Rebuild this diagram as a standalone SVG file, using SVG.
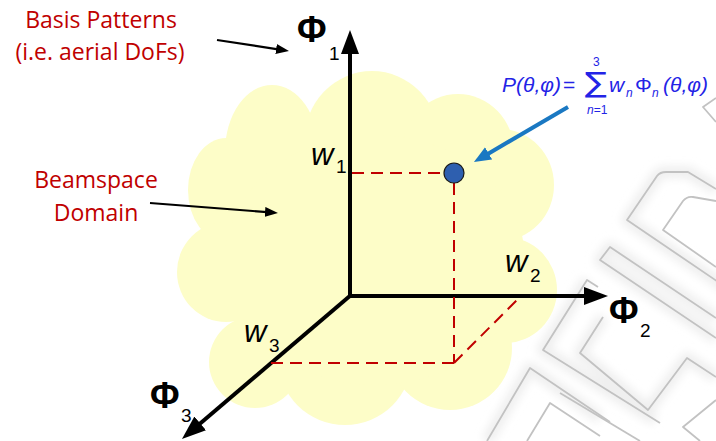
<svg xmlns="http://www.w3.org/2000/svg" width="716" height="441" viewBox="0 0 716 441">
  <style>
    .lbl { font-family: "Open Sans", "Liberation Sans", sans-serif; font-size: 23px; fill: #C00000; text-anchor: middle; }
    .phi { font-family: "Liberation Sans", Arial, sans-serif; font-weight: bold; font-size: 36px; fill: #000; }
    .sub { font-family: "Liberation Sans", Arial, sans-serif; font-size: 19px; fill: #000; }
    .w { font-family: "Liberation Sans", Arial, sans-serif; font-style: italic; font-size: 31px; fill: #000; }
    .f { font-family: "Liberation Sans", Arial, sans-serif; font-size: 21px; fill: #2323E6; }
    .fi { font-style: italic; }
    .fs { font-size: 12px; }
    .axis { stroke: #000; stroke-width: 4; fill: none; }
    .thin { stroke: #000; stroke-width: 2.2; fill: none; }
    .dash { stroke: #C00000; stroke-width: 2; fill: none; stroke-dasharray: 12 7; }
    .pat { fill: none; stroke: #c2c2c2; stroke-width: 1.8; stroke-linejoin: round; }
    .patsh { fill: none; stroke: #efefef; stroke-width: 12; stroke-linejoin: round; }
  </style>
  <defs>
    <marker id="axhead" markerUnits="userSpaceOnUse" markerWidth="26" markerHeight="20" refX="2" refY="9" orient="auto">
      <path d="M0,0 L24,9 L0,18 z" fill="#000"/>
    </marker>
    <marker id="smhead" markerUnits="userSpaceOnUse" markerWidth="14" markerHeight="11" refX="2" refY="5" orient="auto">
      <path d="M0,0 L13,5 L0,10 z" fill="#000"/>
    </marker>
    <marker id="bluehead" markerUnits="userSpaceOnUse" markerWidth="18" markerHeight="15" refX="2" refY="7" orient="auto">
      <path d="M0,0 L17,7 L0,14 z" fill="#1A78C2"/>
    </marker>
    <filter id="soft" x="-10%" y="-10%" width="120%" height="120%">
      <feGaussianBlur stdDeviation="4"/>
    </filter>
  </defs>

  <rect width="716" height="441" fill="#fff"/>

  <!-- faint background antenna pattern -->
  <g id="background-pattern">
    <g filter="url(#soft)">
      <path class="patsh" d="M727,288 L627,220 L657,176 Q660,172 666,172 L688,172 L716,189"/>
      <path class="patsh" d="M716,318 L610,247 L600,260 L716,338"/>
      <path class="patsh" d="M655,420 L543,350 L587,280"/>
      <path class="patsh" d="M603,317 L580,353 L648,410 L687,358 L716,377"/>
      <path class="patsh" d="M487,441 L530,368 L600,418"/>
    </g>
    <path class="pat" d="M727,288 L627,220 L657,176 Q660,172 666,172 L688,172 L716,189"/>
    <path class="pat" d="M716,267 L663,230 L683,201 Q687,196 693,197 L716,201"/>
    <path class="pat" d="M716,318 L610,247 L600,260 L716,338"/>
    <path class="pat" d="M660,423 L543,350 L587,280 L598,287"/>
    <path class="pat" d="M603,317 L580,353 L648,410 L687,358 L716,377"/>
    <path class="pat" d="M560,393 L640,441"/>
    <path class="pat" d="M716,400 L683,427 L700,441"/>
    <path class="pat" d="M487,441 L530,368 L610,422"/>
    <path class="pat" d="M527,441 L550,403 L600,436"/>
    <path class="pat" d="M716,98 L703,107 L716,122"/>
  </g>

  <!-- cloud -->
  <g id="beamspace-cloud" fill="#FDFDC8">
    <ellipse cx="372" cy="142" rx="68" ry="71"/>
    <ellipse cx="272" cy="152" rx="47" ry="67"/>
    <ellipse cx="226" cy="190" rx="38" ry="52"/>
    <ellipse cx="226" cy="272" rx="49" ry="50"/>
    <ellipse cx="255" cy="362" rx="46" ry="46"/>
    <ellipse cx="345" cy="358" rx="67" ry="67"/>
    <ellipse cx="450" cy="348" rx="62" ry="62"/>
    <ellipse cx="505" cy="290" rx="52" ry="53"/>
    <ellipse cx="500" cy="185" rx="54" ry="56"/>
    <ellipse cx="458" cy="152" rx="56" ry="58"/>
    <ellipse cx="375" cy="260" rx="150" ry="125"/>
  </g>

  <!-- connectors -->
  <g id="connectors">
    <line class="axis" x1="350" y1="298" x2="350" y2="52" marker-end="url(#axhead)"/>
    <line class="axis" x1="348" y1="296" x2="586" y2="296" marker-end="url(#axhead)"/>
    <line class="axis" x1="351" y1="295" x2="198.7" y2="424.7" marker-end="url(#axhead)"/>
    <line class="thin" x1="217" y1="40" x2="278.1" y2="49.3" marker-end="url(#smhead)"/>
    <line class="thin" x1="150" y1="203" x2="267" y2="212.1" marker-end="url(#smhead)"/>
    <line x1="568" y1="107" x2="486.9" y2="154.4" stroke="#1A78C2" stroke-width="4" marker-end="url(#bluehead)"/>
    <path class="dash" d="M352,173 H444"/>
    <path class="dash" d="M454,183 V363"/>
    <path class="dash" d="M454,363 H268"/>
    <path class="dash" d="M454,363 L521,296"/>
  </g>

  <g id="point">
    <circle cx="454" cy="173" r="10" fill="#2E5FAF" stroke="#1a1a1a" stroke-width="1.2"/>
  </g>

  <g id="label-basis">
    <text class="lbl" x="101" y="28">Basis Patterns</text>
    <text class="lbl" x="100" y="60">(i.e. aerial DoFs)</text>
  </g>
  <g id="label-beamspace">
    <text class="lbl" x="96" y="188">Beamspace</text>
    <text class="lbl" x="96" y="221">Domain</text>
  </g>

  <g id="axis-phi1">
    <text class="phi" x="297" y="42">Φ</text>
    <text class="sub" x="329" y="60">1</text>
  </g>
  <g id="axis-phi2">
    <text class="phi" x="609" y="323">Φ</text>
    <text class="sub" x="640" y="337">2</text>
  </g>
  <g id="axis-phi3">
    <text class="phi" x="150" y="408">Φ</text>
    <text class="sub" x="181" y="422">3</text>
  </g>

  <g id="weight-w1">
    <text class="w" x="311" y="165">w</text>
    <text class="sub" x="336" y="173">1</text>
  </g>
  <g id="weight-w2">
    <text class="w" x="505" y="272">w</text>
    <text class="sub" x="530" y="282">2</text>
  </g>
  <g id="weight-w3">
    <text class="w" x="244" y="342">w</text>
    <text class="sub" x="269" y="352">3</text>
  </g>

  <g id="formula">
    <text class="f fi" x="502" y="92">P(θ,φ)</text>
    <text class="f" x="563" y="92">=</text>
    <text x="585" y="92" textLength="22" lengthAdjust="spacingAndGlyphs" style="font-family:'DejaVu Sans',sans-serif;font-size:28px;fill:#2323E6">∑</text>
    <text class="f fs" x="593" y="66">3</text>
    <text class="f fs" x="587" y="114"><tspan class="fi">n</tspan>=1</text>
    <text class="f fi" x="609" y="92">w</text>
    <text class="f fi fs" x="626" y="97">n</text>
    <text class="f" x="635" y="92">Φ</text>
    <text class="f fi fs" x="652" y="97">n</text>
    <text class="f fi" x="663" y="92">(θ,φ)</text>
  </g>
</svg>
